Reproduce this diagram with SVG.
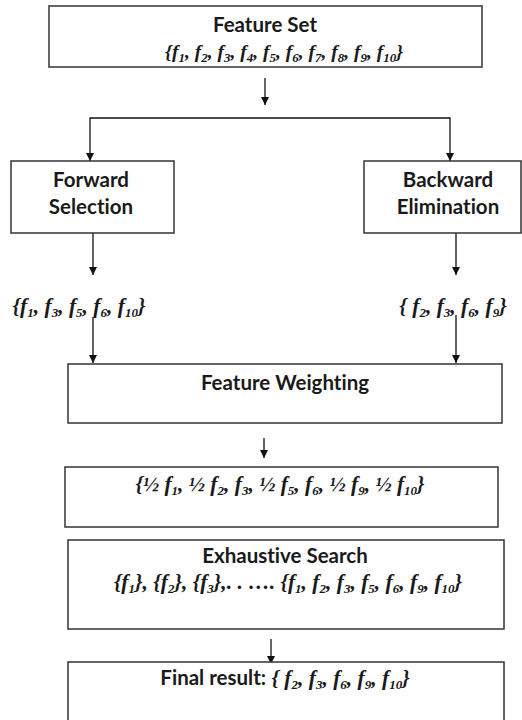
<svg xmlns="http://www.w3.org/2000/svg" width="522" height="720" viewBox="0 0 522 720">
<defs>
<marker id="ah" viewBox="0 0 10 10" refX="10" refY="5" markerWidth="10" markerHeight="8" markerUnits="userSpaceOnUse" orient="auto">
<path d="M0,0 L10,5 L0,10 z" fill="#111"/>
</marker>
<style>
.box{fill:#fff;stroke:#333;stroke-width:1.5}
.lbl{font-family:Lato,"Liberation Sans",sans-serif;font-weight:bold;font-size:20.5px;fill:#1a1a1a;text-anchor:middle;font-variant-ligatures:none}
.m{font-family:"Liberation Serif",serif;font-style:italic;font-weight:bold;font-size:21.5px;fill:#1a1a1a;text-anchor:middle}
.sb{font-size:13px}
.n{font-family:Lato,"Liberation Sans",sans-serif;font-style:normal;font-size:20.5px}
.c{fill:none;stroke:#111;stroke-width:1.3}
</style>
</defs>
<rect width="522" height="720" fill="#fff"/>

<g id="connectors">
<path class="c" d="M265,78 V105" marker-end="url(#ah)"/>
<path class="c" d="M265,118 H90 V161" marker-end="url(#ah)"/>
<path class="c" d="M265,118 H450 V161" marker-end="url(#ah)"/>
<path class="c" d="M93,233 V275" marker-end="url(#ah)"/>
<path class="c" d="M456,233 V275" marker-end="url(#ah)"/>
<path class="c" d="M93,317 V363" marker-end="url(#ah)"/>
<path class="c" d="M456,315 V363" marker-end="url(#ah)"/>
<path class="c" d="M264,438 V458" marker-end="url(#ah)"/>
<path class="c" d="M271,503 V527" marker-end="url(#ah)"/>
<path class="c" d="M271,639 V664" marker-end="url(#ah)"/>
</g>

<g id="feature-set">
<rect class="box" x="49" y="6" width="433" height="61" style="stroke:#555;stroke-width:1.8"/>
<text class="lbl" x="265" y="32">Feature Set</text>
<text class="m" x="284" y="58" style="font-size:19.5px">{<tspan>f</tspan><tspan class="sb" dy="4">1</tspan><tspan dy="-4">, f</tspan><tspan class="sb" dy="4">2</tspan><tspan dy="-4">, f</tspan><tspan class="sb" dy="4">3</tspan><tspan dy="-4">, f</tspan><tspan class="sb" dy="4">4</tspan><tspan dy="-4">, f</tspan><tspan class="sb" dy="4">5</tspan><tspan dy="-4">, f</tspan><tspan class="sb" dy="4">6</tspan><tspan dy="-4">, f</tspan><tspan class="sb" dy="4">7</tspan><tspan dy="-4">, f</tspan><tspan class="sb" dy="4">8</tspan><tspan dy="-4">, f</tspan><tspan class="sb" dy="4">9</tspan><tspan dy="-4">, f</tspan><tspan class="sb" dy="4">10</tspan><tspan dy="-4">}</tspan></text>
</g>

<g id="forward-selection">
<rect class="box" x="11" y="161" width="163" height="72"/>
<text class="lbl" x="91" y="187">Forward</text>
<text class="lbl" x="91" y="214">Selection</text>
</g>

<g id="backward-elimination">
<rect class="box" x="364" y="161" width="157" height="72"/>
<text class="lbl" x="448" y="187">Backward</text>
<text class="lbl" x="448" y="214">Elimination</text>
</g>

<g id="forward-set">
<text class="m" x="79" y="313">{f<tspan class="sb" dy="4">1</tspan><tspan dy="-4">, f</tspan><tspan class="sb" dy="4">3</tspan><tspan dy="-4">, f</tspan><tspan class="sb" dy="4">5</tspan><tspan dy="-4">, f</tspan><tspan class="sb" dy="4">6</tspan><tspan dy="-4">, f</tspan><tspan class="sb" dy="4">10</tspan><tspan dy="-4">}</tspan></text>
</g>

<g id="backward-set">
<text class="m" x="453" y="313">{ f<tspan class="sb" dy="4">2</tspan><tspan dy="-4">, f</tspan><tspan class="sb" dy="4">3</tspan><tspan dy="-4">, f</tspan><tspan class="sb" dy="4">6</tspan><tspan dy="-4">, f</tspan><tspan class="sb" dy="4">9</tspan><tspan dy="-4">}</tspan></text>
</g>

<g id="feature-weighting">
<rect class="box" x="68" y="364" width="434" height="59"/>
<text class="lbl" x="285" y="390">Feature Weighting</text>
</g>

<g id="weighted-set">
<rect class="box" x="65" y="467" width="433" height="60"/>
<text class="m" x="280" y="491">{½ f<tspan class="sb" dy="4">1</tspan><tspan dy="-4">, ½ f</tspan><tspan class="sb" dy="4">2</tspan><tspan dy="-4">, f</tspan><tspan class="sb" dy="4">3</tspan><tspan dy="-4">, ½ f</tspan><tspan class="sb" dy="4">5</tspan><tspan dy="-4">, f</tspan><tspan class="sb" dy="4">6</tspan><tspan dy="-4">, ½ f</tspan><tspan class="sb" dy="4">9</tspan><tspan dy="-4">, ½ f</tspan><tspan class="sb" dy="4">10</tspan><tspan dy="-4">}</tspan></text>
</g>

<g id="exhaustive-search">
<rect class="box" x="68" y="540" width="436" height="89"/>
<text class="lbl" x="285" y="563">Exhaustive Search</text>
<text class="m" x="288" y="589">{f<tspan class="sb" dy="4">1</tspan><tspan dy="-4">}, {f</tspan><tspan class="sb" dy="4">2</tspan><tspan dy="-4">}, {f</tspan><tspan class="sb" dy="4">3</tspan><tspan dy="-4">},. . …. {f</tspan><tspan class="sb" dy="4">1</tspan><tspan dy="-4">, f</tspan><tspan class="sb" dy="4">2</tspan><tspan dy="-4">, f</tspan><tspan class="sb" dy="4">3</tspan><tspan dy="-4">,  f</tspan><tspan class="sb" dy="4">5</tspan><tspan dy="-4">, f</tspan><tspan class="sb" dy="4">6</tspan><tspan dy="-4">,  f</tspan><tspan class="sb" dy="4">9</tspan><tspan dy="-4">,  f</tspan><tspan class="sb" dy="4">10</tspan><tspan dy="-4">}</tspan></text>
</g>

<g id="final-result">
<rect class="box" x="68" y="662" width="436" height="70"/>
<text class="m" x="285" y="685"><tspan class="n">Final result:</tspan> { f<tspan class="sb" dy="4">2</tspan><tspan dy="-4">, f</tspan><tspan class="sb" dy="4">3</tspan><tspan dy="-4">, f</tspan><tspan class="sb" dy="4">6</tspan><tspan dy="-4">, f</tspan><tspan class="sb" dy="4">9</tspan><tspan dy="-4">, f</tspan><tspan class="sb" dy="4">10</tspan><tspan dy="-4">}</tspan></text>
</g>
</svg>
